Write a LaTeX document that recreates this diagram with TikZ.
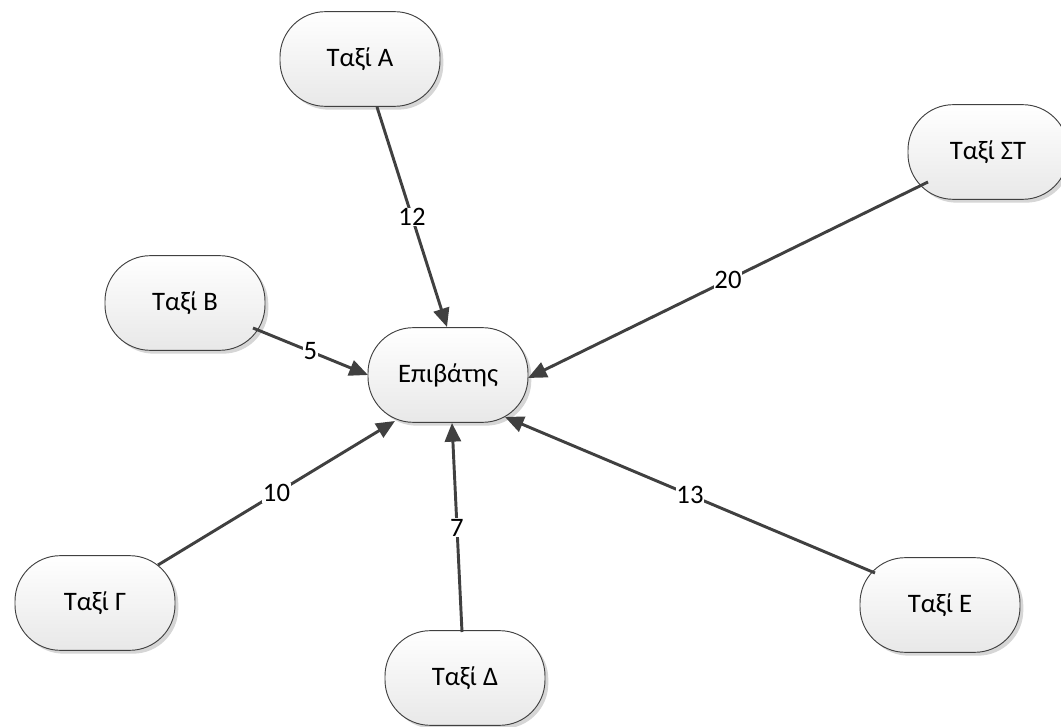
\documentclass[tikz,border=0pt]{standalone}
\usepackage{fontspec}
\setmainfont{Carlito}
\usetikzlibrary{shadows,arrows.meta,calc}
\definecolor{edge}{HTML}{404040}
\begin{document}
\begin{tikzpicture}[x=0.75pt,y=-0.75pt,
  taxi/.style={draw=edge, line width=0.7pt, rounded corners=34pt,
    minimum width=120pt, minimum height=71pt, inner sep=0pt,
    top color=white, bottom color=black!9,
    drop shadow={shadow xshift=2.5pt,shadow yshift=-2.5pt,fill=black!16,opacity=1},
    font=\fontsize{20}{24}\selectfont},
  conn/.style={draw=edge, line width=2.2pt, -{Triangle[length=14pt,width=12pt]}},
  lbl/.style={fill=white, inner sep=0.6pt, text=black, font=\fontsize{20}{24}\selectfont}]
\useasboundingbox (0,0) rectangle (1061,727);
\node[taxi] (A)  at (360,59)  {Ταξί Α};
\node[taxi] (ST) at (988,152) {Ταξί ΣΤ};
\node[taxi] (B)  at (185,303) {Ταξί Β};
\node[taxi] (P)  at (448,375) {Επιβάτης};
\node[taxi] (G)  at (95,603)  {Ταξί Γ};
\node[taxi] (D)  at (465,678) {Ταξί Δ};
\node[taxi] (E)  at (940,605) {Ταξί Ε};
\draw[conn] ($(A)+(17,48)$)   -- node[lbl] {12} ($(P)+(-1,-48)$);
\draw[conn] ($(ST)+(-60,30)$) -- node[lbl] {20} ($(P)+(80,3)$);
\draw[conn] ($(B)+(68,25)$)   -- node[lbl] {5}  ($(P)+(-80,0)$);
\draw[conn] ($(G)+(63,-38)$)  -- node[lbl] {10} ($(P)+(-53,46)$);
\draw[conn] ($(D)+(-3,-46)$)  -- node[lbl] {7}  ($(P)+(4,48)$);
\draw[conn] ($(E)+(-65,-32)$) -- node[lbl] {13} ($(P)+(57,42)$);
\end{tikzpicture}
\end{document}
